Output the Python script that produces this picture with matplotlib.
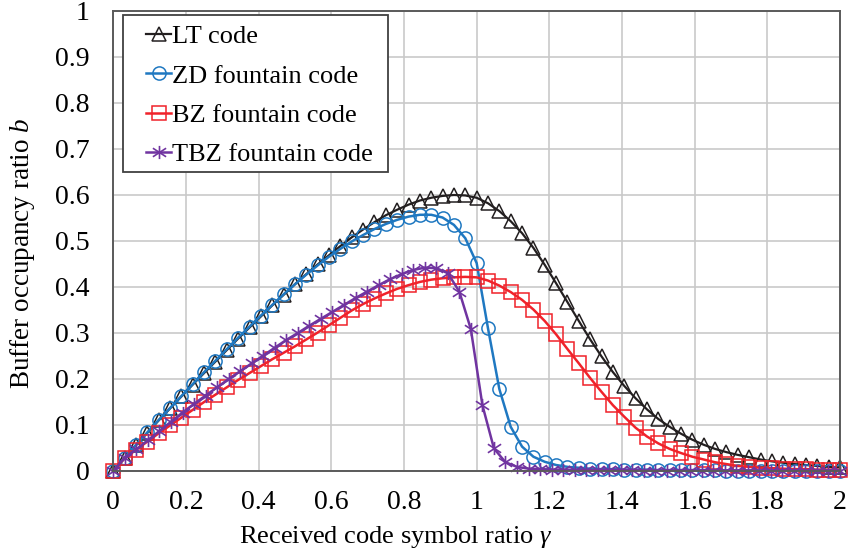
import numpy as np
import matplotlib
matplotlib.use("Agg")
import matplotlib.pyplot as plt
from matplotlib.path import Path
from matplotlib.patches import Rectangle

plt.rcParams['font.family'] = 'Liberation Serif'
plt.rcParams['mathtext.fontset'] = 'custom'
plt.rcParams['mathtext.rm'] = 'Liberation Serif'
plt.rcParams['mathtext.it'] = 'Liberation Serif:italic'

# received code symbol ratio (LT / ZD / BZ sampled every 1/32, TBZ every 2/63)
gamma = np.arange(65) / 32
gamma_tbz = np.arange(64) * 2 / 63

lt = [0, 0.028, 0.056, 0.083, 0.110, 0.136, 0.162, 0.188, 0.213, 0.238,
      0.263, 0.288, 0.312, 0.336, 0.360, 0.383, 0.406, 0.428, 0.449, 0.469,
      0.489, 0.508, 0.525, 0.541, 0.556, 0.568, 0.579, 0.588, 0.594, 0.598,
      0.600, 0.599, 0.594, 0.582, 0.565, 0.543, 0.517, 0.485, 0.448, 0.408,
      0.367, 0.326, 0.286, 0.249, 0.215, 0.185, 0.158, 0.134, 0.113, 0.096,
      0.081, 0.068, 0.057, 0.048, 0.041, 0.035, 0.030, 0.025, 0.021, 0.018,
      0.015, 0.013, 0.011, 0.009, 0.008]

zd = [0, 0.029, 0.057, 0.084, 0.111, 0.137, 0.163, 0.189, 0.215, 0.240,
      0.265, 0.290, 0.314, 0.338, 0.361, 0.384, 0.406, 0.427, 0.447, 0.466,
      0.483, 0.499, 0.513, 0.526, 0.537, 0.546, 0.553, 0.557, 0.557, 0.551,
      0.535, 0.506, 0.452, 0.310, 0.178, 0.096, 0.053, 0.031, 0.020, 0.013,
      0.009, 0.007, 0.005, 0.004, 0.004, 0.003, 0.003, 0.003, 0.002, 0.002,
      0.002, 0.002, 0.002, 0.002, 0.001, 0.001, 0.001, 0.001, 0.001, 0.001,
      0.001, 0.001, 0.001, 0.001, 0.001]

bz = [0, 0.028, 0.046, 0.064, 0.082, 0.099, 0.116, 0.133, 0.150, 0.166,
      0.182, 0.198, 0.213, 0.228, 0.243, 0.257, 0.271, 0.286, 0.301, 0.317,
      0.333, 0.349, 0.363, 0.375, 0.386, 0.396, 0.404, 0.411, 0.416, 0.419,
      0.421, 0.422, 0.421, 0.414, 0.403, 0.389, 0.372, 0.351, 0.326, 0.297,
      0.265, 0.234, 0.202, 0.172, 0.143, 0.118, 0.094, 0.075, 0.060, 0.048,
      0.039, 0.031, 0.025, 0.019, 0.015, 0.011, 0.009, 0.007, 0.006, 0.005,
      0.004, 0.004, 0.003, 0.003, 0.003]

tbz = [0, 0.029, 0.047, 0.067, 0.087, 0.107, 0.127, 0.146, 0.164, 0.182,
       0.200, 0.217, 0.234, 0.251, 0.268, 0.285, 0.300, 0.316, 0.331, 0.346,
       0.361, 0.376, 0.390, 0.404, 0.417, 0.428, 0.437, 0.442, 0.441, 0.430,
       0.390, 0.308, 0.143, 0.049, 0.019, 0.009, 0.005, 0.004, 0.003, 0.003,
       0.002, 0.002, 0.002, 0.002, 0.002, 0.002, 0.001, 0.001, 0.001, 0.001,
       0.001, 0.001, 0.001, 0.001, 0.001, 0.001, 0.001, 0.001, 0.001, 0.001,
       0.001, 0.001, 0.001, 0.001]

x_ticks = [0, 0.2, 0.4, 0.6, 0.8, 1.0, 1.2, 1.4, 1.6, 1.8, 2.0]
x_ticklabels = ['0', '0.2', '0.4', '0.6', '0.8', '1', '1.2', '1.4', '1.6', '1.8', '2']
y_ticks = [0, 0.1, 0.2, 0.3, 0.4, 0.5, 0.6, 0.7, 0.8, 0.9, 1.0]
y_ticklabels = ['0', '0.1', '0.2', '0.3', '0.4', '0.5', '0.6', '0.7', '0.8', '0.9', '1']

# excel-like star: an x with a vertical bar through it
star = Path([(-1, -0.65), (1, 0.65), (-1, 0.65), (1, -0.65), (0, -1), (0, 1)],
            [Path.MOVETO, Path.LINETO] * 3)

fig = plt.figure(figsize=(8.49, 5.55), dpi=100)
ax = fig.add_axes([113.3 / 849, 1 - 471 / 555, 726.7 / 849, 460 / 555])

ax.plot(gamma, lt, color='#231f20', lw=1.6, marker='^', ms=10, mfc='none',
        mew=1.1, label='LT code', clip_on=False)
ax.plot(gamma, zd, color='#1f78c1', lw=1.8, marker='o', ms=9.5, mfc='none',
        mew=1.1, label='ZD fountain code', clip_on=False)
ax.plot(gamma, bz, color='#f0222a', lw=1.8, marker='s', ms=9.5, mfc='none',
        mew=1.1, label='BZ fountain code', clip_on=False)
ax.plot(gamma_tbz, tbz, color='#7034a0', lw=1.8, marker=star, ms=9.5,
        mew=1.2, label='TBZ fountain code', clip_on=False)

ax.set_xlim(0, 2)
ax.set_ylim(0, 1)
ax.set_xticks(x_ticks)
ax.set_xticklabels(x_ticklabels)
ax.set_yticks(y_ticks)
ax.set_yticklabels(y_ticklabels)
ax.tick_params(length=0, labelsize=20)
ax.tick_params(axis='x', pad=14)
ax.tick_params(axis='y', pad=17)
ax.grid(color='#c9c9c9', lw=1.2)
ax.set_axisbelow(True)
for s in ['top', 'bottom', 'left', 'right']:
    ax.spines[s].set_color('#5a5a5a')
    ax.spines[s].set_linewidth(1.4)

ax.set_xlabel(r'Received code symbol ratio $\it{\gamma}$', fontsize=19)
ax.xaxis.set_label_coords(0.388, -0.115)
ax.set_ylabel(r'Buffer occupancy ratio $\it{b}$', fontsize=19.5)
ax.yaxis.set_label_coords(-0.105, 0.473)

# legend frame drawn separately so the left padding can match the original
ax.add_patch(Rectangle((0.013, 0.65), 0.365, 0.341, transform=ax.transAxes,
                       facecolor='white', edgecolor='#404040', lw=1.3, zorder=4))
leg = ax.legend(loc='upper left', bbox_to_anchor=(0.045, 0.970), fontsize=19,
                frameon=False, handlelength=0.95, handletextpad=0.05,
                borderpad=0, labelspacing=0.6, borderaxespad=0)
leg.set_zorder(5)

fig.savefig('out.png', dpi=100)
